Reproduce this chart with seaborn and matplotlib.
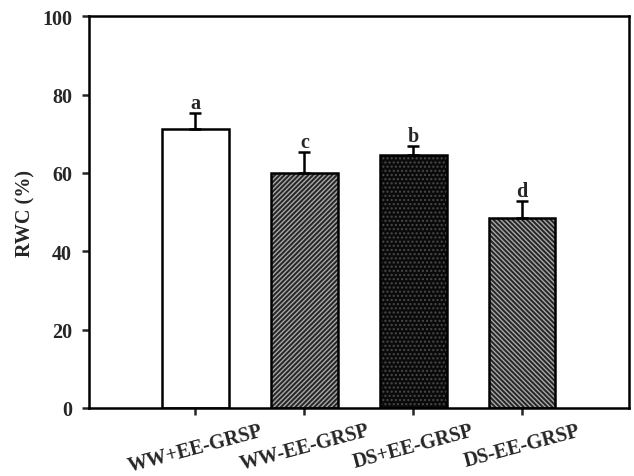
import matplotlib
matplotlib.use("Agg")
import matplotlib.pyplot as plt
import seaborn as sns
import pandas as pd

# Relative water content per treatment
treatments = ["WW+EE-GRSP", "WW-EE-GRSP", "DS+EE-GRSP", "DS-EE-GRSP"]
rwc_mean = [71.2, 60.0, 64.6, 48.5]
rwc_se = [4.1, 5.3, 2.3, 4.4]
letters = ["a", "c", "b", "d"]

fills = ["white", "#262626", "#0a0a0a", "#262626"]
hatch_colors = ["white", "#a8a8a8", "#4a4a4a", "#a8a8a8"]
hatches = [None, "///////", "....", "\\\\\\\\\\\\\\"]

sns.set_theme(style="ticks")
plt.rcParams["font.family"] = ["Liberation Serif", "DejaVu Serif"]
plt.rcParams["font.weight"] = "bold"
plt.rcParams["hatch.linewidth"] = 1.0

FS = 14.5

df = pd.DataFrame({"treatment": treatments, "rwc": rwc_mean})

fig = plt.figure(figsize=(6.34, 4.77), dpi=100)
ax = fig.add_axes([0.140, 0.1426, 0.852, 0.8214])

# filled, hatched bars
sns.barplot(data=df, x="treatment", y="rwc", order=treatments, width=0.61,
            color="white", linewidth=0, errorbar=None, ax=ax, zorder=2)
for p, fc, hc, h in zip(ax.patches, fills, hatch_colors, hatches):
    p.set_facecolor(fc)
    p.set_edgecolor(hc)
    p.set_linewidth(0)
    if h:
        p.set_hatch(h)

# black outlines on top
n_fill = len(ax.patches)
sns.barplot(data=df, x="treatment", y="rwc", order=treatments, width=0.61,
            fill=False, edgecolor="black", linewidth=1.8, errorbar=None,
            ax=ax, zorder=3)
for p in ax.patches[n_fill:]:
    p.set_facecolor("none")
    p.set_edgecolor("black")

# upper error bars and significance letters
xs = range(len(treatments))
ax.errorbar(xs, rwc_mean, yerr=[[0] * len(rwc_se), rwc_se], fmt="none",
            ecolor="black", elinewidth=1.8, capsize=4, capthick=1.8, zorder=4)
for x, m, s, lab in zip(xs, rwc_mean, rwc_se, letters):
    ax.annotate(lab, (x, m + s), xytext=(0, 0), textcoords="offset points",
                ha="center", va="bottom", fontsize=FS, fontweight="bold")

ax.set_ylim(0, 100)
ax.set_xlim(-0.98, 3.98)
ax.set_yticks([0, 20, 40, 60, 80, 100])
ax.set_xlabel("")
ax.set_ylabel("RWC (%)", fontsize=FS, fontweight="bold", labelpad=5)
ax.tick_params(axis="y", direction="out", length=5, width=1.8, labelsize=FS, pad=7)
ax.tick_params(axis="x", direction="out", length=5, width=1.8, labelsize=FS,
               pad=4, top=False)
ax.tick_params(right=False)
for lab in ax.get_xticklabels():
    lab.set_rotation(15)
    lab.set_ha("center")
    lab.set_fontweight("bold")
for lab in ax.get_yticklabels():
    lab.set_fontweight("bold")
for side in ["left", "right", "top", "bottom"]:
    ax.spines[side].set_visible(True)
    ax.spines[side].set_linewidth(1.8)
    ax.spines[side].set_color("black")

fig.savefig("out.png", dpi=100)
